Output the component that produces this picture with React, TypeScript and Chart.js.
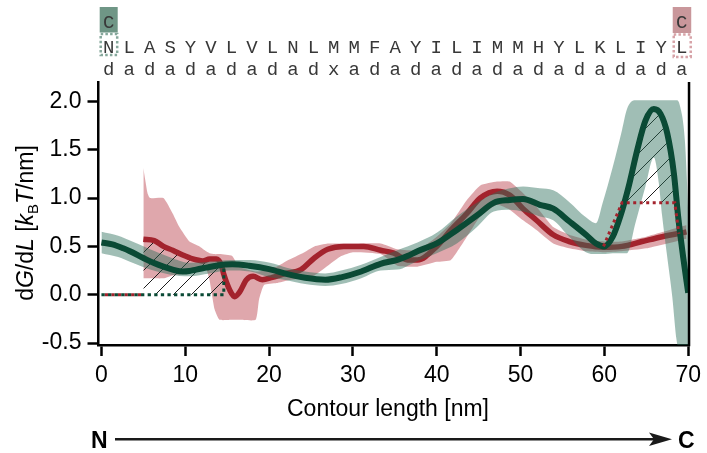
import React, { useEffect, useRef } from 'react';
import { Chart, registerables } from 'chart.js';

Chart.register(...registerables);

// ---- sequence annotation ----
const residues = ['N','L','A','S','Y','V','L','V','L','N','L','M','M','F','A','Y','I','L','I','M','M','H','Y','L','K','L','I','Y','L'];
const registry = ['d','a','d','a','d','a','d','a','d','a','d','x','a','d','a','d','a','d','a','d','a','d','a','d','a','d','a','d','a'];

// ---- axes ----
const xTicks = [0, 10, 20, 30, 40, 50, 60, 70];
const yTicks = [-0.5, 0, 0.5, 1.0, 1.5, 2.0];
const xMin = -0.35, xMax = 70.1, yMin = -0.52, yMax = 2.2;

// ---- green (C-terminal pulled) profile ----
const greenX = [0, 1.3, 2.6, 3.4, 5.0, 6.2, 7.4, 8.5, 9.7, 10.5, 11.3, 12.5, 13.7, 15.6, 17.6, 20.0, 22.3, 24.3, 26.7, 28.6, 31.0, 33.3, 35.3, 36.5, 37.7, 40.0, 42.4, 44.8, 46.8, 48.7, 50.3, 52.3, 53.9, 55.8, 57.8, 59.0, 60.0, 61.0, 61.9, 62.9, 63.9, 64.9, 65.9, 66.7, 67.5, 68.3, 68.8, 69.4, 70.0];
const greenY = [0.54, 0.52, 0.48, 0.45, 0.38, 0.33, 0.29, 0.26, 0.24, 0.245, 0.26, 0.28, 0.30, 0.315, 0.30, 0.265, 0.21, 0.175, 0.155, 0.18, 0.24, 0.32, 0.36, 0.40, 0.45, 0.53, 0.67, 0.82, 0.95, 0.98, 0.99, 0.93, 0.89, 0.76, 0.62, 0.53, 0.50, 0.60, 0.81, 1.12, 1.49, 1.80, 1.92, 1.87, 1.67, 1.25, 0.81, 0.39, 0.02];

const greenBandX = [0, 2.0, 3.4, 5.8, 8.1, 10.5, 12.9, 15.3, 17.7, 20.1, 22.1, 24.3, 26.7, 28.6, 31.0, 33.3, 35.3, 37.7, 40.0, 42.4, 44.8, 46.8, 48.7, 50.3, 52.3, 53.9, 55.8, 57.8, 59.0, 59.8, 61.0, 62.1, 62.7, 63.7, 64.9, 65.9, 66.5, 66.9, 67.5, 68.1, 68.6, 69.0, 69.6, 69.9, 70.1];
const greenBandLo = [0.43, 0.39, 0.34, 0.26, 0.21, 0.19, 0.22, 0.25, 0.24, 0.18, 0.15, 0.11, 0.09, 0.11, 0.17, 0.25, 0.26, 0.35, 0.43, 0.53, 0.70, 0.86, 0.88, 0.86, 0.81, 0.77, 0.60, 0.44, 0.42, 0.42, 0.43, 0.43, 0.43, 0.74, 1.12, 1.42, 1.15, 0.81, 0.39, -0.02, -0.46, -0.6, -0.6, -0.6, -0.6];
const greenBandHi = [0.65, 0.61, 0.56, 0.47, 0.39, 0.33, 0.34, 0.36, 0.36, 0.33, 0.28, 0.24, 0.22, 0.25, 0.31, 0.39, 0.46, 0.54, 0.64, 0.81, 0.95, 1.05, 1.10, 1.12, 1.10, 1.08, 0.96, 0.80, 0.74, 0.95, 1.32, 1.70, 1.92, 2.01, 2.01, 2.01, 2.01, 2.01, 2.01, 2.01, 2.01, 1.96, 1.60, 1.08, 0.6];

// ---- red (N-terminal pulled) profile ----
const redX = [5.0, 6.3, 7.4, 8.5, 9.7, 10.9, 12.1, 12.9, 13.7, 14.3, 14.6, 15.3, 15.9, 16.5, 17.3, 18.1, 19.2, 20.4, 22.0, 23.8, 25.4, 27.0, 28.9, 31.3, 33.3, 34.9, 36.5, 37.7, 40.0, 41.7, 43.6, 45.2, 47.2, 48.7, 50.3, 51.9, 53.9, 55.8, 57.8, 59.8, 62.1, 64.5, 66.9, 69.8];
const redY = [0.574, 0.56, 0.50, 0.46, 0.41, 0.37, 0.35, 0.37, 0.37, 0.31, 0.21, 0.05, -0.02, 0.03, 0.155, 0.19, 0.155, 0.18, 0.22, 0.26, 0.38, 0.47, 0.50, 0.50, 0.46, 0.43, 0.36, 0.36, 0.50, 0.67, 0.84, 1.00, 1.07, 1.03, 0.89, 0.77, 0.62, 0.55, 0.51, 0.49, 0.50, 0.55, 0.60, 0.65];

const redBandX = [5.0, 5.5, 5.8, 7.4, 8.5, 9.3, 10.5, 11.7, 12.5, 12.9, 13.5, 14.1, 15.6, 16.4, 18.4, 18.8, 19.4, 20.9, 22.3, 24.0, 25.4, 27.0, 28.6, 30.0, 33.3, 35.3, 37.7, 40.0, 41.7, 43.6, 45.2, 47.2, 48.7, 50.3, 51.9, 53.9, 55.8, 57.8, 60.0, 62.0, 65.0, 69.8];
const redBandLo = [0.17, 0.17, 0.17, 0.17, 0.20, 0.21, 0.22, 0.24, 0.26, 0.15, -0.15, -0.26, -0.26, -0.26, -0.26, -0.05, 0.10, 0.12, 0.15, 0.17, 0.20, 0.30, 0.40, 0.44, 0.42, 0.30, 0.29, 0.34, 0.36, 0.60, 0.81, 0.93, 0.88, 0.77, 0.67, 0.53, 0.48, 0.45, 0.44, 0.45, 0.48, 0.58];
const redBandHi = [1.31, 1.05, 1.00, 1.00, 0.84, 0.70, 0.55, 0.50, 0.45, 0.43, 0.42, 0.42, 0.40, 0.29, 0.24, 0.24, 0.25, 0.29, 0.36, 0.43, 0.50, 0.53, 0.53, 0.53, 0.53, 0.47, 0.46, 0.60, 0.74, 0.98, 1.13, 1.17, 1.17, 1.05, 0.91, 0.70, 0.62, 0.57, 0.55, 0.55, 0.60, 0.72];

// ---- dotted reference lines ----
const greenDotX = [0, 14.6, 14.6];
const greenDotY = [0, 0, 0.31];
const redDotLeftX = [0, 5.0];
const redDotLeftY = [0, 0];
const redDotRightX = [59.9, 62.1, 68.4, 68.9];
const redDotRightY = [0.50, 0.95, 0.95, 0.63];
const hatchLeftEnd = 14.6;
const hatchRightLevel = 0.95;

const GREEN = '#0a4a35';
const RED = '#a3232d';
const GREEN_BAND = 'rgba(45,110,90,0.45)';
const RED_BAND = 'rgba(185,60,70,0.45)';
const SANS = '"Liberation Sans", Arial, sans-serif';
const MONO = '"Liberation Mono", "Courier New", monospace';

const pts = (xs: number[], ys: number[]) => xs.map((x, i) => ({ x, y: ys[i] }));

function makeHatch(): CanvasPattern | string {
  const s = 18;
  const c = document.createElement('canvas');
  c.width = s; c.height = s;
  const g = c.getContext('2d');
  if (!g) return 'rgba(0,0,0,0.2)';
  g.strokeStyle = '#1e1e1e';
  g.lineWidth = 1;
  g.beginPath();
  g.moveTo(0, s); g.lineTo(s, 0);
  g.moveTo(-s / 2, s / 2); g.lineTo(s / 2, -s / 2);
  g.moveTo(s / 2, s * 1.5); g.lineTo(s * 1.5, s / 2);
  g.stroke();
  return g.createPattern(c, 'repeat') || 'rgba(0,0,0,0.2)';
}

function rightHatchPoints() {
  const out: { x: number; y: number }[] = [];
  for (let i = 0; i < greenX.length; i++) {
    const y = greenY[i];
    if (i > 0) {
      const py = greenY[i - 1];
      if ((py < hatchRightLevel) !== (y < hatchRightLevel)) {
        const t = (hatchRightLevel - py) / (y - py);
        out.push({ x: greenX[i - 1] + t * (greenX[i] - greenX[i - 1]), y: hatchRightLevel });
      }
    }
    if (y >= hatchRightLevel && greenX[i] > 60) out.push({ x: greenX[i], y });
  }
  return out;
}

const annotPlugin = {
  id: 'annot',
  afterDraw(chart: any) {
    const { ctx, chartArea: ca } = chart;
    ctx.save();
    // right frame line
    ctx.strokeStyle = '#000';
    ctx.lineWidth = 2.5;
    ctx.beginPath();
    ctx.moveTo(ca.right, ca.top);
    ctx.lineTo(ca.right, ca.bottom + 1.25);
    ctx.stroke();

    // sequence rows
    const x0 = ca.left + 10.2;
    const step = (ca.right - 7.3 - x0) / (residues.length - 1);
    const last = residues.length - 1;
    // C boxes
    ctx.fillStyle = '#6f9686';
    ctx.fillRect(x0 - 9, 7, 18, 25.5);
    ctx.fillStyle = '#c9979b';
    ctx.fillRect(x0 + last * step - 9, 7, 18.5, 26);
    // dotted boxes
    ctx.lineWidth = 2.5;
    ctx.setLineDash([2.5, 2.2]);
    ctx.strokeStyle = '#86a89c';
    ctx.strokeRect(x0 - 8, 34, 16.5, 21);
    ctx.strokeStyle = '#d7a3a8';
    ctx.strokeRect(x0 + last * step - 8, 34.5, 17, 22.5);
    ctx.setLineDash([]);

    ctx.font = `19px ${MONO}`;
    ctx.textAlign = 'center';
    ctx.textBaseline = 'alphabetic';
    ctx.fillStyle = '#383838';
    ctx.fillText('C', x0, 28);
    ctx.fillText('C', x0 + last * step, 28);
    residues.forEach((r, i) => ctx.fillText(r, x0 + i * step, 53));
    registry.forEach((r, i) => ctx.fillText(r, x0 + i * step, 75));

    // y-axis title with italics and subscript
    const parts: { t: string; st: 'n' | 'i' | 'sub' }[] = [
      { t: 'd', st: 'n' }, { t: 'G', st: 'i' }, { t: '/d', st: 'n' }, { t: 'L', st: 'i' },
      { t: ' [', st: 'n' }, { t: 'k', st: 'i' }, { t: 'B', st: 'sub' }, { t: 'T', st: 'i' }, { t: '/nm]', st: 'n' },
    ];
    const fontOf = (st: string) =>
      st === 'i' ? `italic 23px ${SANS}` : st === 'sub' ? `15px ${SANS}` : `23px ${SANS}`;
    let total = 0;
    const widths = parts.map((p) => {
      ctx.font = fontOf(p.st);
      const w = ctx.measureText(p.t).width;
      total += w;
      return w;
    });
    ctx.save();
    ctx.translate(33, 223);
    ctx.rotate(-Math.PI / 2);
    ctx.textAlign = 'left';
    ctx.fillStyle = '#000';
    let cx = -total / 2;
    parts.forEach((p, i) => {
      ctx.font = fontOf(p.st);
      ctx.fillText(p.t, cx, p.st === 'sub' ? 5 : 0);
      cx += widths[i];
    });
    ctx.restore();

    // x-axis title
    ctx.font = `23px ${SANS}`;
    ctx.textAlign = 'center';
    ctx.fillStyle = '#000';
    ctx.fillText('Contour length [nm]', 388, 416);

    // N -> C arrow
    ctx.font = `bold 23px ${SANS}`;
    ctx.textAlign = 'left';
    ctx.fillText('N', 91, 448);
    ctx.fillText('C', 678, 448);
    ctx.strokeStyle = '#1a1a1a';
    ctx.lineWidth = 2.5;
    ctx.beginPath();
    ctx.moveTo(115, 439.3);
    ctx.lineTo(660, 439.3);
    ctx.stroke();
    ctx.fillStyle = '#1a1a1a';
    ctx.beginPath();
    ctx.moveTo(672, 439.3);
    ctx.lineTo(649, 432.5);
    ctx.lineTo(654, 439.3);
    ctx.lineTo(649, 446);
    ctx.closePath();
    ctx.fill();
    ctx.restore();
  },
};

export default function App() {
  const ref = useRef<HTMLCanvasElement>(null);
  useEffect(() => {
    if (!ref.current) return;
    const hatch = makeHatch();
    const noPt = { pointRadius: 0, pointHoverRadius: 0 };
    const chart = new Chart(ref.current, {
      type: 'line',
      data: {
        datasets: [
          { data: pts(redDotRightX, redDotRightY), borderColor: RED, borderWidth: 3, borderDash: [3, 3.5], fill: false, tension: 0, ...noPt },
          { data: pts(greenX, greenY), borderColor: GREEN, borderWidth: 6, fill: false, cubicInterpolationMode: 'monotone', borderJoinStyle: 'round', ...noPt },
          { data: pts(greenDotX, greenDotY), borderColor: GREEN, borderWidth: 3, borderDash: [3.3, 3.3], fill: false, tension: 0, ...noPt },
          { data: pts(redDotLeftX, redDotLeftY), borderColor: RED, borderWidth: 3, borderDash: [3.3, 3.3], borderDashOffset: 3.3, fill: false, tension: 0, ...noPt },
          { data: pts(greenBandX, greenBandHi), borderWidth: 0, borderColor: 'rgba(0,0,0,0)', backgroundColor: GREEN_BAND, fill: '+1', cubicInterpolationMode: 'monotone', ...noPt },
          { data: pts(greenBandX, greenBandLo), borderWidth: 0, borderColor: 'rgba(0,0,0,0)', fill: false, cubicInterpolationMode: 'monotone', ...noPt },
          { data: rightHatchPoints(), borderWidth: 0, borderColor: 'rgba(0,0,0,0)', backgroundColor: hatch as any, fill: { value: hatchRightLevel }, cubicInterpolationMode: 'monotone', ...noPt },
          { data: pts(redX, redY), borderColor: RED, borderWidth: 5.5, fill: false, cubicInterpolationMode: 'monotone', borderJoinStyle: 'round', ...noPt },
          { data: pts(redX, redY).filter((p) => p.x <= hatchLeftEnd), borderWidth: 0, borderColor: 'rgba(0,0,0,0)', backgroundColor: hatch as any, fill: { value: 0 }, cubicInterpolationMode: 'monotone', ...noPt },
          { data: pts(redBandX, redBandHi), borderWidth: 0, borderColor: 'rgba(0,0,0,0)', backgroundColor: RED_BAND, fill: '+1', tension: 0.15, ...noPt },
          { data: pts(redBandX, redBandLo), borderWidth: 0, borderColor: 'rgba(0,0,0,0)', fill: false, tension: 0.15, ...noPt },
        ] as any,
      },
      options: {
        animation: false,
        responsive: false,
        devicePixelRatio: 1,
        layout: { padding: { left: 0, right: 13, top: 82, bottom: 0 } },
        plugins: { legend: { display: false }, tooltip: { enabled: false } },
        events: [],
        scales: {
          x: {
            type: 'linear',
            min: xMin,
            max: xMax,
            afterFit: (s: any) => { s.height = 108; },
            afterBuildTicks: (s: any) => { s.ticks = xTicks.map((v) => ({ value: v })); },
            ticks: { color: '#000', font: { family: SANS, size: 23 }, padding: 6, autoSkip: false, maxRotation: 0, callback: (v: any) => String(v) },
            grid: { display: true, drawOnChartArea: false, drawTicks: true, tickLength: 11, tickWidth: 2.5, tickColor: '#000' },
            border: { display: true, color: '#000', width: 2.5 },
          },
          y: {
            type: 'linear',
            min: yMin,
            max: yMax,
            afterFit: (s: any) => { s.width = 98.5; },
            afterBuildTicks: (s: any) => { s.ticks = yTicks.map((v) => ({ value: v })); },
            ticks: { color: '#000', font: { family: SANS, size: 23 }, padding: 6, callback: (v: any) => Number(v).toFixed(1) },
            grid: { display: true, drawOnChartArea: false, drawTicks: true, tickLength: 11, tickWidth: 2.5, tickColor: '#000' },
            border: { display: true, color: '#000', width: 2.5 },
          },
        },
      } as any,
      plugins: [annotPlugin],
    });
    return () => chart.destroy();
  }, []);
  return (
    <div style={{ position: 'absolute', left: 0, top: 0, width: 707, height: 453, background: '#fff' }}>
      <canvas ref={ref} width={707} height={453} style={{ display: 'block', width: 707, height: 453 }} />
    </div>
  );
}
